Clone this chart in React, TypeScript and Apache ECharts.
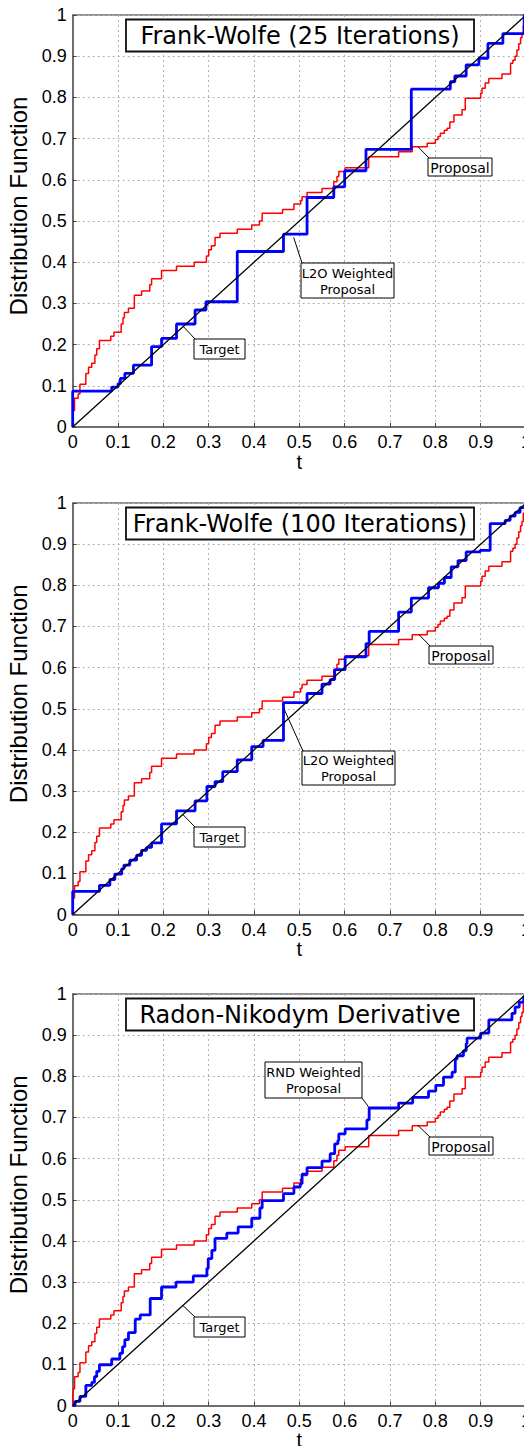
import React, { useEffect, useRef } from "react";
import * as echarts from "echarts";

const panelTitles = [
  "Frank-Wolfe (25 Iterations)",
  "Frank-Wolfe (100 Iterations)",
  "Radon-Nikodym Derivative",
];

const xAxisName = "t";
const yAxisName = "Distribution Function";

// Target distribution (uniform CDF)
const target: [number, number][] = [
  [0, 0],
  [1, 1],
];

// Proposal empirical CDF (jump location, value after jump)
const proposal: [number, number][] = [
  [0, 0], [0.001, 0.04], [0.004, 0.07], [0.012, 0.08], [0.016, 0.104], [0.029, 0.13],
  [0.035, 0.145], [0.042, 0.155], [0.049, 0.175], [0.053, 0.19], [0.059, 0.21],
  [0.084, 0.22], [0.091, 0.23], [0.107, 0.25], [0.111, 0.265], [0.114, 0.278],
  [0.123, 0.288], [0.136, 0.32], [0.152, 0.33], [0.17, 0.345], [0.174, 0.36],
  [0.196, 0.38], [0.229, 0.39], [0.268, 0.4], [0.295, 0.415], [0.3, 0.43],
  [0.306, 0.44], [0.314, 0.46], [0.325, 0.47], [0.363, 0.48], [0.395, 0.49],
  [0.412, 0.5], [0.418, 0.519], [0.463, 0.528], [0.488, 0.541], [0.503, 0.55],
  [0.506, 0.559], [0.517, 0.569], [0.55, 0.579], [0.576, 0.595], [0.583, 0.608],
  [0.587, 0.62], [0.601, 0.629], [0.653, 0.656], [0.719, 0.668], [0.749, 0.68],
  [0.782, 0.689], [0.8, 0.698], [0.806, 0.705], [0.811, 0.713], [0.82, 0.72],
  [0.826, 0.725], [0.832, 0.74], [0.841, 0.757], [0.859, 0.77], [0.866, 0.798],
  [0.9, 0.81], [0.903, 0.822], [0.91, 0.835], [0.918, 0.846], [0.947, 0.857],
  [0.966, 0.883], [0.971, 0.89], [0.976, 0.9], [0.98, 0.915], [0.984, 0.93],
  [0.988, 0.945], [0.991, 0.955], [0.994, 0.975], [0.997, 0.99], [1, 1],
];

// L2O weighted proposal, Frank-Wolfe 25 iterations
const fw25: [number, number][] = [
  [0, 0], [0, 0.087], [0.086, 0.097], [0.1, 0.105], [0.105, 0.118], [0.115, 0.13],
  [0.134, 0.15], [0.174, 0.195], [0.196, 0.215], [0.229, 0.25], [0.27, 0.284],
  [0.294, 0.304], [0.363, 0.426], [0.465, 0.468], [0.517, 0.557], [0.576, 0.583],
  [0.6, 0.622], [0.647, 0.674], [0.747, 0.82], [0.833, 0.838], [0.843, 0.852],
  [0.868, 0.879], [0.896, 0.895], [0.916, 0.931], [0.949, 0.955], [0.996, 1], [1, 1],
];

// L2O weighted proposal, Frank-Wolfe 100 iterations
const fw100: [number, number][] = [
  [0, 0], [0, 0.056], [0.059, 0.071], [0.082, 0.085], [0.093, 0.098], [0.108, 0.111],
  [0.113, 0.12], [0.126, 0.132], [0.141, 0.144], [0.152, 0.156], [0.163, 0.163],
  [0.174, 0.174], [0.196, 0.22], [0.229, 0.252], [0.27, 0.276], [0.296, 0.311],
  [0.314, 0.323], [0.331, 0.347], [0.363, 0.376], [0.395, 0.408], [0.42, 0.423],
  [0.465, 0.515], [0.517, 0.537], [0.55, 0.56], [0.568, 0.571], [0.578, 0.595],
  [0.601, 0.626], [0.647, 0.658], [0.654, 0.688], [0.719, 0.735], [0.747, 0.769],
  [0.785, 0.794], [0.807, 0.805], [0.82, 0.819], [0.835, 0.845], [0.85, 0.86],
  [0.868, 0.881], [0.899, 0.885], [0.921, 0.95], [0.954, 0.958], [0.965, 0.968],
  [0.976, 0.977], [0.987, 0.989], [1, 1],
];

// RND weighted proposal
const rnd: [number, number][] = [
  [0, 0], [0.005, 0.01], [0.016, 0.022], [0.029, 0.049], [0.042, 0.056], [0.048, 0.07],
  [0.053, 0.083], [0.059, 0.099], [0.086, 0.113], [0.104, 0.127], [0.11, 0.143],
  [0.115, 0.16], [0.123, 0.177], [0.138, 0.21], [0.149, 0.22], [0.171, 0.26],
  [0.196, 0.288], [0.228, 0.3], [0.266, 0.315], [0.296, 0.333], [0.299, 0.357],
  [0.307, 0.377], [0.314, 0.406], [0.34, 0.419], [0.365, 0.434], [0.395, 0.455],
  [0.413, 0.48], [0.418, 0.498], [0.465, 0.515], [0.488, 0.531], [0.502, 0.539],
  [0.506, 0.562], [0.517, 0.578], [0.55, 0.594], [0.568, 0.612], [0.578, 0.636],
  [0.585, 0.644], [0.587, 0.66], [0.601, 0.672], [0.649, 0.694], [0.654, 0.723],
  [0.719, 0.735], [0.75, 0.749], [0.785, 0.764], [0.801, 0.778], [0.818, 0.798],
  [0.837, 0.81], [0.844, 0.842], [0.848, 0.85], [0.862, 0.862], [0.868, 0.88],
  [0.87, 0.893], [0.9, 0.905], [0.918, 0.937], [0.969, 0.953], [0.976, 0.968],
  [0.985, 0.98], [0.995, 0.994], [1, 1],
];

const weighted = [fw25, fw100, rnd];

// Annotations: anchor in data coords, box in pixels, corner of box for leader
const annotations = [
  { panel: 0, text: "Proposal", anchor: [0.762, 0.68], box: [428, 158, 64, 18], size: 14 },
  { panel: 0, text: "Target", anchor: [0.244, 0.244], box: [194, 339, 51, 20], size: 13 },
  { panel: 0, text: "L2O Weighted\nProposal", anchor: [0.4875, 0.46], box: [301, 263, 93, 35], size: 13 },
  { panel: 1, text: "Proposal", anchor: [0.765, 0.679], box: [429, 646, 64, 18], size: 14 },
  { panel: 1, text: "Target", anchor: [0.243, 0.243], box: [194, 827, 51, 20], size: 13 },
  { panel: 1, text: "L2O Weighted\nProposal", anchor: [0.466, 0.5], box: [302, 751, 93, 34], size: 13 },
  { panel: 2, text: "RND Weighted\nProposal", anchor: [0.654, 0.7236], box: [265, 1062, 97, 36], size: 13, corner: "br" },
  { panel: 2, text: "Proposal", anchor: [0.762, 0.68], box: [429, 1137, 64, 18], size: 14 },
  { panel: 2, text: "Target", anchor: [0.243, 0.243], box: [194, 1317, 51, 20], size: 13 },
];

const grids = [
  { left: 72.7, top: 15, width: 453.3, height: 412 },
  { left: 72.7, top: 503, width: 453.3, height: 411.5 },
  { left: 72.7, top: 994, width: 453.3, height: 411.5 },
];

const tickFont = "Liberation Sans";
const labelFont = "DejaVu Sans";

export default function App() {
  const ref = useRef<HTMLDivElement>(null);
  useEffect(() => {
    if (!ref.current) return;
    const chart = echarts.init(ref.current, undefined, { renderer: "svg" });
    const option: any = {
      animation: false,
      backgroundColor: "#fff",
      grid: grids.map((g) => ({
        ...g,
        show: true,
        outerBoundsMode: "none",
        containLabel: false,
        borderColor: "#222",
        borderWidth: 1,
        backgroundColor: "transparent",
      })),
      xAxis: grids.map((_, i) => ({
        type: "value",
        gridIndex: i,
        min: 0,
        max: 1,
        interval: 0.1,
        name: xAxisName,
        nameLocation: "middle",
        nameGap: 23,
        nameTextStyle: { fontFamily: tickFont, fontSize: 20, lineHeight: 15, color: "#000" },
        axisLine: { lineStyle: { color: "#6e6e6e", width: 2 } },
        axisTick: { show: true, inside: true, length: 4, lineStyle: { color: "#444" } },
        axisLabel: { fontFamily: tickFont, fontSize: 18, color: "#000", margin: 6 },
        splitLine: { show: true, lineStyle: { color: "#b0b0b0", width: 1, type: [2, 3] } },
      })),
      yAxis: grids.map((_, i) => ({
        type: "value",
        gridIndex: i,
        min: 0,
        max: 1,
        interval: 0.1,
        name: yAxisName,
        nameLocation: "middle",
        nameRotate: 90,
        nameGap: 40,
        nameTextStyle: {
          fontFamily: tickFont,
          fontSize: 24,
          color: "#000",
          padding: [0, 0, 0, 30],
        },
        axisLine: { show: true, lineStyle: { color: "#6e6e6e", width: 2 } },
        axisTick: { show: true, inside: true, length: 4, lineStyle: { color: "#444" } },
        axisLabel: { fontFamily: tickFont, fontSize: 18, color: "#000", margin: 6 },
        splitLine: { show: true, lineStyle: { color: "#b0b0b0", width: 1, type: [2, 3] } },
      })),
      series: grids.flatMap((_, i) => [
        {
          type: "line",
          name: "Proposal",
          xAxisIndex: i,
          yAxisIndex: i,
          data: proposal,
          step: "end",
          symbol: "none",
          lineStyle: { color: "#ff0000", width: 1.5 },
          z: 3,
        },
        {
          type: "line",
          name: i === 2 ? "RND Weighted Proposal" : "L2O Weighted Proposal",
          xAxisIndex: i,
          yAxisIndex: i,
          data: weighted[i],
          step: "end",
          symbol: "none",
          lineStyle: { color: "#0000ff", width: 2.8 },
          z: 4,
        },
        {
          type: "line",
          name: "Target",
          xAxisIndex: i,
          yAxisIndex: i,
          data: target,
          symbol: "none",
          lineStyle: { color: "#000", width: 1.3 },
          z: 5,
        },
      ]),
    };
    chart.setOption(option);

    const graphics: any[] = [];
    // Title boxes
    panelTitles.forEach((t, i) => {
      const g = grids[i];
      graphics.push({
        type: "rect",
        shape: { x: 126, y: g.top + 4.5, width: 348, height: 32 },
        style: { fill: "#fff", stroke: "#111", lineWidth: 1.8 },
        z: 40,
      });
      graphics.push({
        type: "text",
        x: 300,
        y: g.top + 21,
        style: {
          text: t,
          fill: "#000",
          font: `24px "${labelFont}"`,
          align: "center",
          verticalAlign: "middle",
        },
        z: 41,
      });
    });
    annotations.forEach((a) => {
      const p = chart.convertToPixel({ gridIndex: a.panel } as any, a.anchor) as number[];
      const [bx, by, bw, bh] = a.box;
      const cx = a.corner === "br" ? bx + bw : bx + 1;
      const cy = a.corner === "br" ? by + bh : by;
      graphics.push({
        type: "line",
        shape: { x1: p[0], y1: p[1], x2: cx, y2: cy },
        style: { stroke: "#000", lineWidth: 1 },
        z: 30,
      });
      graphics.push({
        type: "rect",
        shape: { x: bx, y: by, width: bw, height: bh },
        style: { fill: "#fff", stroke: "#000", lineWidth: 1 },
        z: 31,
      });
      graphics.push({
        type: "text",
        x: bx + bw / 2,
        y: by + bh / 2 + 0.5,
        style: {
          text: a.text,
          fill: "#000",
          font: `${a.size}px "${labelFont}"`,
          align: "center",
          verticalAlign: "middle",
          lineHeight: 16,
        },
        z: 32,
      });
    });
    chart.setOption({ graphic: graphics });

    return () => chart.dispose();
  }, []);
  return (
    <div
      ref={ref}
      style={{ position: "absolute", left: 0, top: 0, width: 524, height: 1446 }}
    />
  );
}
